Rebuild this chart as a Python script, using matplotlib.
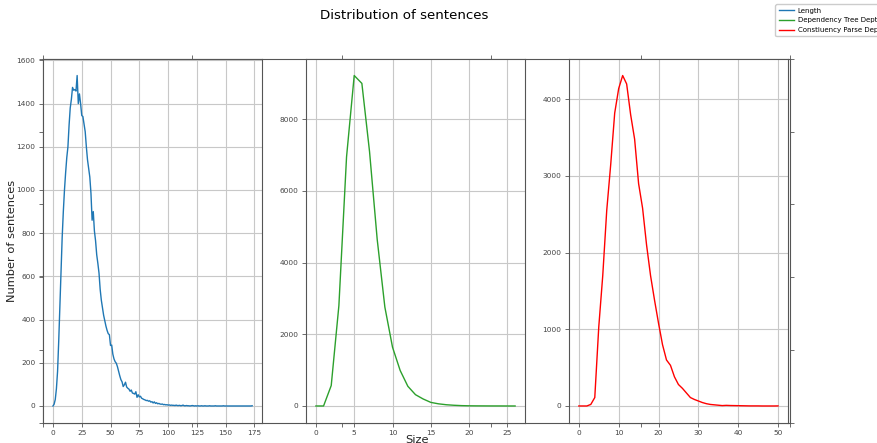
import numpy as np
import matplotlib
matplotlib.use("Agg")
import matplotlib.pyplot as plt

# sentence counts by length (0..173)
length_counts = [
    0, 8, 30, 80, 160, 300, 460, 620, 780, 900,
    1000, 1080, 1150, 1200, 1300, 1380, 1420, 1475, 1462, 1465,
    1458, 1530, 1400, 1445, 1400, 1345, 1340, 1305, 1270, 1200,
    1140, 1100, 1060, 985, 860, 900, 810, 765, 700, 660,
    615, 540, 490, 455, 420, 395, 370, 350, 335, 330,
    280, 282, 240, 218, 205, 198, 182, 160, 140, 122,
    112, 90, 98, 110, 88, 82, 78, 68, 74, 60,
    58, 55, 66, 40, 52, 42, 45, 36, 33, 30,
    28, 25, 26, 22, 24, 18, 20, 14, 19, 12,
    15, 10, 12, 9, 8, 9, 6, 7, 5, 6,
    4, 5, 3, 4, 3, 3, 2, 4, 2, 2,
    3, 1, 2, 4, 1, 1, 2, 1, 1, 0,
    1, 2, 1, 0, 1, 0, 1, 0, 0, 1,
    0, 0, 1, 0, 0, 0, 1, 0, 0, 0,
    0, 1, 0, 0, 0, 0, 0, 0, 1, 0,
    0, 0, 0, 0, 0, 0, 0, 0, 0, 0,
    0, 0, 0, 0, 0, 0, 0, 0, 0, 0,
    0, 0, 0, 1,
]

# dependency tree depth (0..26)
dep_counts = [
    0, 0, 570, 2800, 6950, 9220, 9000, 7100, 4650, 2760,
    1640, 990, 550, 315, 195, 100, 60, 35, 20, 10,
    5, 3, 2, 1, 1, 0, 0,
]

# constituency parse depth (0..50)
const_counts = [
    0, 0, 0, 20, 110, 1030, 1700, 2550, 3150, 3820,
    4140, 4310, 4200, 3800, 3480, 2900, 2580, 2100, 1700, 1380,
    1080, 800, 600, 530, 380, 280, 230, 170, 110, 85,
    65, 45, 30, 20, 15, 10, 5, 8, 6, 5,
    4, 3, 2, 1, 1, 1, 0, 0, 0, 0, 1,
]

labels = ["Length", "Dependency Tree Depth", "Constiuency Parse Depth"]
colors = ["#1f77b4", "#2ca02c", "red"]
series = [length_counts, dep_counts, const_counts]

spine_col = "#555555"
grid_col = "#c8c8c8"
tick_col = "#444444"

fig = plt.figure(figsize=(8.77, 4.43), dpi=100)
left, right, top, bottom = 43 / 877, 788 / 877, 1 - 59 / 443, 1 - 422.5 / 443

# background axes carrying the shared labels
big = fig.add_axes([left, bottom, right - left + 2 / 877, top - bottom])
big.set_zorder(0)
big.tick_params(top=True, right=True, labelleft=False, labelbottom=False,
                length=3, width=0.6, color=spine_col, direction="out")
for s in big.spines.values():
    s.set_color(spine_col)
    s.set_linewidth(0.8)
big.set_ylabel("Number of sentences", fontsize=8.2, color="#222222")
big.yaxis.set_label_coords(-0.035, 0.5)
big.set_xlabel("Size", fontsize=8.2, color="#222222")
big.xaxis.set_label_coords(0.5, -0.034)

fig.subplots_adjust(left=left, right=right, top=top, bottom=bottom, wspace=0.2)
handles = []
for i, (vals, lab, col) in enumerate(zip(series, labels, colors)):
    ax = fig.add_subplot(1, 3, i + 1)
    ax.set_zorder(1)
    x = np.arange(len(vals))
    h, = ax.plot(x, vals, color=col, lw=1.0, label=lab)
    handles.append(h)
    ax.grid(True, color=grid_col, lw=0.8)
    ax.set_axisbelow(True)
    ax.tick_params(labelsize=5.3, labelcolor=tick_col, length=3, width=0.6,
                   color=spine_col, pad=2.5)
    for s in ax.spines.values():
        s.set_color(spine_col)
        s.set_linewidth(0.8)

fig.suptitle("Distribution of sentences", fontsize=9.6, x=404.5 / 877, y=1 - 9 / 443, va="top")
fig.legend(handles=handles, labels=labels, loc="upper left",
           bbox_to_anchor=(772 / 877, 1 - 1 / 443), fontsize=5,
           handlelength=2.15, borderpad=0.45, labelspacing=0.55,
           handletextpad=0.6, framealpha=1)

fig.savefig("out.png", dpi=100)
